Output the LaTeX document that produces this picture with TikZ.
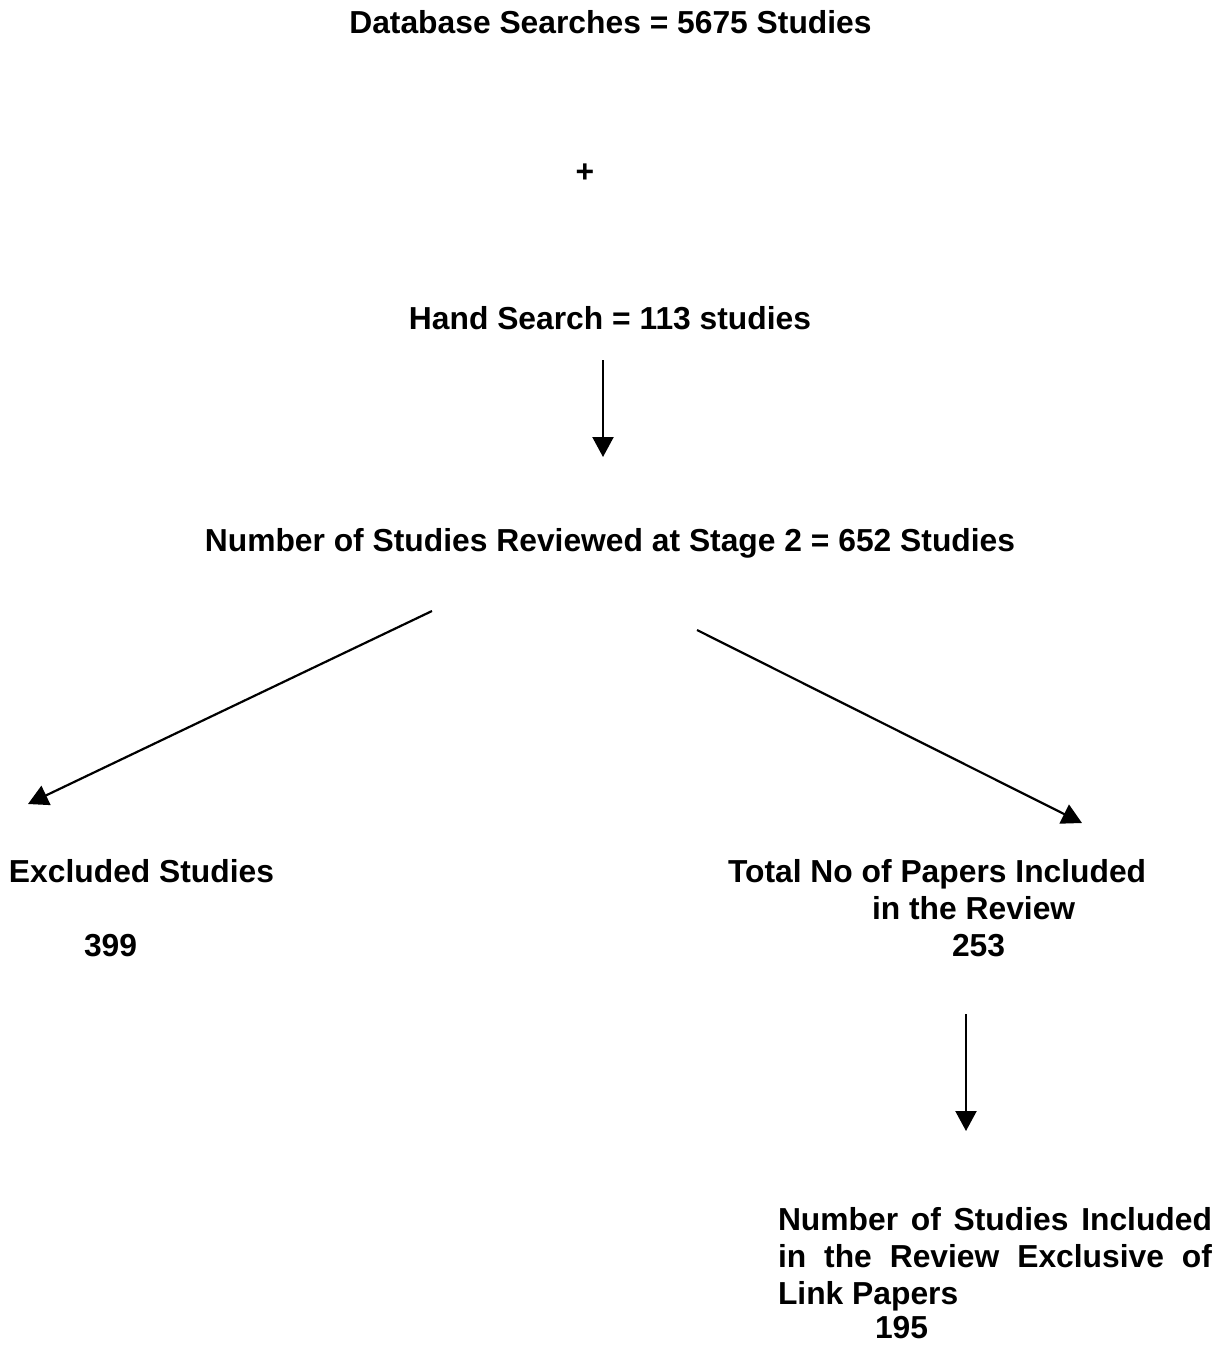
\documentclass[tikz,border=0pt]{standalone}
\usepackage{fontspec}
\setmainfont{Liberation Sans}
\usetikzlibrary{arrows.meta}
\tikzset{
  lbl/.style={inner sep=0pt, outer sep=0pt, font=\bfseries\fontsize{31.8}{37}\selectfont, text=black},
  conn/.style={line width=2.2pt, draw=black, -{Triangle[length=20pt,width=21pt]}},
}
\begin{document}
\begin{tikzpicture}[x=1pt,y=-1pt]
\useasboundingbox (0,0) rectangle (1224,1345);
% texts
\node[lbl, anchor=base] (db) at (610.5,33) {Database Searches = 5675 Studies};
\node[lbl] (plus) at (585,173) {+};
\node[lbl, anchor=base] (hand) at (610,329) {Hand Search = 113 studies};
\node[lbl, anchor=base] (rev) at (610,551) {Number of Studies Reviewed at Stage 2 = 652 Studies};
\node[lbl, anchor=base west] (exc) at (9,882) {Excluded Studies};
\node[lbl, anchor=base west] (excn) at (84,956) {399};
\node[lbl, anchor=base west] (tot1) at (728,882) {Total No of Papers Included};
\node[lbl, anchor=base west] (tot2) at (872,919) {in the Review};
\node[lbl, anchor=base west] (totn) at (952,956) {253};
\node[lbl, anchor=base west] (inc1) at (778,1230) {\hbox to 434pt{Number\hfill of\hfill Studies\hfill Included}};
\node[lbl, anchor=base west] (inc2) at (778,1267) {\hbox to 434pt{in\hfill the\hfill Review\hfill Exclusive\hfill of}};
\node[lbl, anchor=base west] (inc3) at (778,1304) {Link Papers};
\node[lbl, anchor=base west] (incn) at (875,1338) {195};
% connector end points
\coordinate (h1) at (603,360);
\coordinate (h2) at (603,457);
\coordinate (l1) at (432,611);
\coordinate (l2) at (28,804);
\coordinate (r1) at (697,630);
\coordinate (r2) at (1082,823);
\coordinate (t1) at (966,1014);
\coordinate (t2) at (966,1131);
% connectors
\draw[conn] (h1) -- (h2);
\draw[conn] (l1) -- (l2);
\draw[conn] (r1) -- (r2);
\draw[conn] (t1) -- (t2);
\end{tikzpicture}
\end{document}
